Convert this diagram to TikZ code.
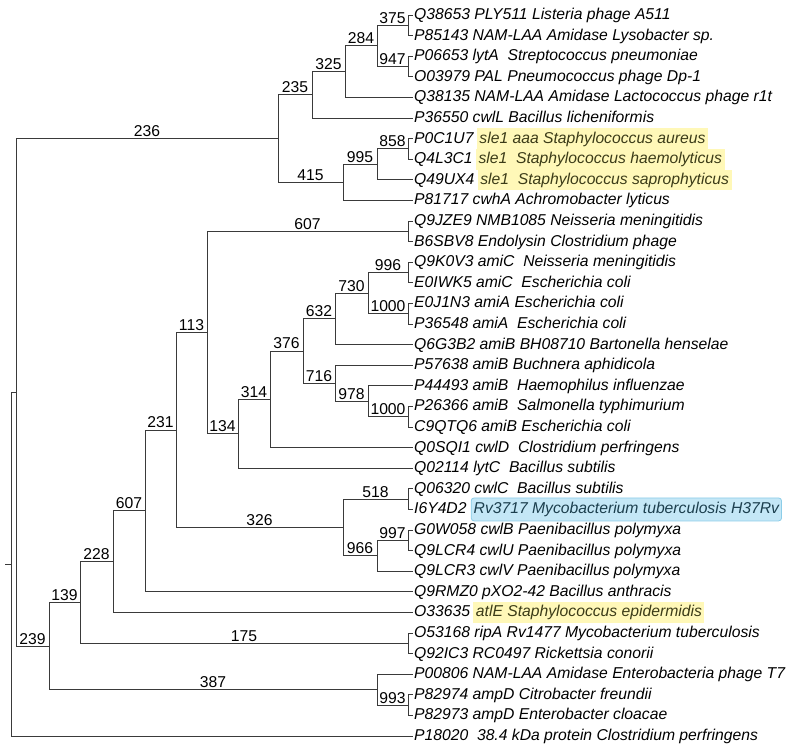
\documentclass[tikz,border=0pt]{standalone}
\usepackage{fontspec}
\setmainfont{Liberation Sans}
\usetikzlibrary{positioning,calc}
\definecolor{TreeLine}{HTML}{3A3A3A}
\definecolor{HlYellow}{HTML}{FFF8B8}
\definecolor{HlYellowText}{HTML}{3C3C18}
\definecolor{HlBlue}{HTML}{C4E7F6}
\definecolor{HlBlueEdge}{HTML}{8CCDE8}
\definecolor{HlBlueText}{HTML}{1C3F4E}

\begin{document}
\begin{tikzpicture}[x=1pt, y=-1pt,
  every node/.style={font=\fontsize{15.7}{18}\selectfont},
  leaf/.style={anchor=west, inner xsep=1pt, inner ysep=0pt, text height=12.5pt, text depth=3.5pt, font=\fontsize{15.7}{18}\selectfont\itshape},
  yellowmark/.style={leaf, fill=HlYellow, text=HlYellowText, minimum height=20.6pt, inner xsep=2.5pt},
  bluemark/.style={leaf, fill=HlBlue, draw=HlBlueEdge, line width=0.8pt, rounded corners=3pt, text=HlBlueText, minimum height=23pt, inner xsep=2.5pt},
  branch/.style={draw=TreeLine, line width=0.9pt},
  boot/.style={above, pos=0.75, inner sep=1.5pt}]
  \useasboundingbox (0,0) rectangle (790,750);

  % Leaves
  \node[leaf] (Q38653) at (413,15.0) {Q38653 PLY511 Listeria phage A511};
  \node[leaf] (P85143) at (413,35.6) {P85143 NAM-LAA Amidase Lysobacter sp.};
  \node[leaf] (P06653) at (413,56.2) {P06653 lytA~ Streptococcus pneumoniae};
  \node[leaf] (O03979) at (413,76.8) {O03979 PAL Pneumococcus phage Dp-1};
  \node[leaf] (Q38135) at (413,97.4) {Q38135 NAM-LAA Amidase Lactococcus phage r1t};
  \node[leaf] (P36550) at (413,118.0) {P36550 cwlL Bacillus licheniformis};
  \node[leaf] (P0C1U7) at (413,138.6) {P0C1U7};
  \node[yellowmark, right=2pt of P0C1U7] (hlP0C1U7) {sle1 aaa Staphylococcus aureus};
  \node[leaf] (Q4L3C1) at (413,159.2) {Q4L3C1};
  \node[yellowmark, right=2pt of Q4L3C1] (hlQ4L3C1) {sle1~ Staphylococcus haemolyticus};
  \node[leaf] (Q49UX4) at (413,179.8) {Q49UX4};
  \node[yellowmark, right=2pt of Q49UX4] (hlQ49UX4) {sle1~ Staphylococcus saprophyticus};
  \node[leaf] (P81717) at (413,200.4) {P81717 cwhA Achromobacter lyticus};
  \node[leaf] (Q9JZE9) at (413,221.0) {Q9JZE9 NMB1085 Neisseria meningitidis};
  \node[leaf] (B6SBV8) at (413,241.6) {B6SBV8 Endolysin Clostridium phage};
  \node[leaf] (Q9K0V3) at (413,262.2) {Q9K0V3 amiC~ Neisseria meningitidis};
  \node[leaf] (E0IWK5) at (413,282.8) {E0IWK5 amiC~ Escherichia coli};
  \node[leaf] (E0J1N3) at (413,303.4) {E0J1N3 amiA Escherichia coli};
  \node[leaf] (P36548) at (413,324.0) {P36548 amiA~ Escherichia coli};
  \node[leaf] (Q6G3B2) at (413,344.6) {Q6G3B2 amiB BH08710 Bartonella henselae};
  \node[leaf] (P57638) at (413,365.2) {P57638 amiB Buchnera aphidicola};
  \node[leaf] (P44493) at (413,385.8) {P44493 amiB~ Haemophilus influenzae};
  \node[leaf] (P26366) at (413,406.4) {P26366 amiB~ Salmonella typhimurium};
  \node[leaf] (C9QTQ6) at (413,427.0) {C9QTQ6 amiB Escherichia coli};
  \node[leaf] (Q0SQI1) at (413,447.6) {Q0SQI1 cwlD~ Clostridium perfringens};
  \node[leaf] (Q02114) at (413,468.2) {Q02114 lytC~ Bacillus subtilis};
  \node[leaf] (Q06320) at (413,488.8) {Q06320 cwlC~ Bacillus subtilis};
  \node[leaf] (I6Y4D2) at (413,509.4) {I6Y4D2};
  \node[bluemark, right=3pt of I6Y4D2] (hlI6Y4D2) {Rv3717 Mycobacterium tuberculosis H37Rv};
  \node[leaf] (G0W058) at (413,530.0) {G0W058 cwlB Paenibacillus polymyxa};
  \node[leaf] (Q9LCR4) at (413,550.6) {Q9LCR4 cwlU Paenibacillus polymyxa};
  \node[leaf] (Q9LCR3) at (413,571.2) {Q9LCR3 cwlV Paenibacillus polymyxa};
  \node[leaf] (Q9RMZ0) at (413,591.8) {Q9RMZ0 pXO2-42 Bacillus anthracis};
  \node[leaf] (O33635) at (413,612.4) {O33635};
  \node[yellowmark, right=2pt of O33635] (hlO33635) {atlE Staphylococcus epidermidis};
  \node[leaf] (O53168) at (413,633.0) {O53168 ripA Rv1477 Mycobacterium tuberculosis};
  \node[leaf] (Q92IC3) at (413,653.6) {Q92IC3 RC0497 Rickettsia conorii};
  \node[leaf] (P00806) at (413,674.2) {P00806 NAM-LAA Amidase Enterobacteria phage T7};
  \node[leaf] (P82974) at (413,694.8) {P82974 ampD Citrobacter freundii};
  \node[leaf] (P82973) at (413,715.4) {P82973 ampD Enterobacter cloacae};
  \node[leaf] (P18020) at (413,736.0) {P18020~ 38.4 kDa protein Clostridium perfringens};

  % Internal nodes
  \coordinate (n375) at (408,25.3);
  \coordinate (n947) at (408,66.5);
  \coordinate (n284) at (377,45.9);
  \coordinate (n325) at (345,71.65);
  \coordinate (n235) at (312,94.8);
  \coordinate (n858) at (408,148.9);
  \coordinate (n995) at (377,164.35);
  \coordinate (n415) at (343,182.4);
  \coordinate (n236) at (278,138.6);
  \coordinate (n607a) at (408,231.3);
  \coordinate (n996) at (408,272.5);
  \coordinate (n1000a) at (408,313.7);
  \coordinate (n730) at (368,293.1);
  \coordinate (n632) at (335,318.85);
  \coordinate (n1000b) at (408,416.7);
  \coordinate (n978) at (368,401.25);
  \coordinate (n716) at (335,383.2);
  \coordinate (n376) at (303,351.0);
  \coordinate (n314) at (270,399.3);
  \coordinate (n134) at (238,433.75);
  \coordinate (n113) at (207,332.5);
  \coordinate (n518) at (408,499.1);
  \coordinate (n997) at (408,540.3);
  \coordinate (n966) at (377,555.75);
  \coordinate (n326) at (343,527.4);
  \coordinate (n231) at (176,429.95);
  \coordinate (n607b) at (145,510.9);
  \coordinate (n228) at (113,561.65);
  \coordinate (n175) at (408,643.3);
  \coordinate (n139) at (80,602.5);
  \coordinate (n993) at (408,705.1);
  \coordinate (n387) at (377,689.65);
  \coordinate (n239) at (49,646.1);
  \coordinate (top) at (16,392.35);
  \coordinate (root) at (11,564.2);
  \coordinate (rootstub) at (5,564.2);

  % Branches
  \draw[branch] (rootstub) -- (root);
  \draw[branch] (root) |- (top);
  \draw[branch] (root) |- (P18020.west);
  \draw[branch] (top) |- (n236) node[boot] {236};
  \draw[branch] (top) |- (n239) node[boot] {239};

  \draw[branch] (n236) |- (n235) node[boot] {235};
  \draw[branch] (n236) |- (n415) node[boot] {415};
  \draw[branch] (n235) |- (n325) node[boot] {325};
  \draw[branch] (n235) |- (P36550.west);
  \draw[branch] (n325) |- (n284) node[boot] {284};
  \draw[branch] (n325) |- (Q38135.west);
  \draw[branch] (n284) |- (n375) node[boot] {375};
  \draw[branch] (n284) |- (n947) node[boot] {947};
  \draw[branch] (n375) |- (Q38653.west);
  \draw[branch] (n375) |- (P85143.west);
  \draw[branch] (n947) |- (P06653.west);
  \draw[branch] (n947) |- (O03979.west);
  \draw[branch] (n415) |- (n995) node[boot] {995};
  \draw[branch] (n415) |- (P81717.west);
  \draw[branch] (n995) |- (n858) node[boot] {858};
  \draw[branch] (n995) |- (Q49UX4.west);
  \draw[branch] (n858) |- (P0C1U7.west);
  \draw[branch] (n858) |- (Q4L3C1.west);

  \draw[branch] (n239) |- (n139) node[boot] {139};
  \draw[branch] (n239) |- (n387) node[boot] {387};
  \draw[branch] (n387) |- (P00806.west);
  \draw[branch] (n387) |- (n993) node[boot] {993};
  \draw[branch] (n993) |- (P82974.west);
  \draw[branch] (n993) |- (P82973.west);
  \draw[branch] (n139) |- (n228) node[boot] {228};
  \draw[branch] (n139) |- (n175) node[boot] {175};
  \draw[branch] (n175) |- (O53168.west);
  \draw[branch] (n175) |- (Q92IC3.west);
  \draw[branch] (n228) |- (n607b) node[boot] {607};
  \draw[branch] (n228) |- (O33635.west);
  \draw[branch] (n607b) |- (n231) node[boot] {231};
  \draw[branch] (n607b) |- (Q9RMZ0.west);
  \draw[branch] (n231) |- (n113) node[boot] {113};
  \draw[branch] (n231) |- (n326) node[boot] {326};

  \draw[branch] (n326) |- (n518) node[boot] {518};
  \draw[branch] (n326) |- (n966) node[boot] {966};
  \draw[branch] (n518) |- (Q06320.west);
  \draw[branch] (n518) |- (I6Y4D2.west);
  \draw[branch] (n966) |- (n997) node[boot] {997};
  \draw[branch] (n966) |- (Q9LCR3.west);
  \draw[branch] (n997) |- (G0W058.west);
  \draw[branch] (n997) |- (Q9LCR4.west);

  \draw[branch] (n113) |- (n607a) node[boot] {607};
  \draw[branch] (n113) |- (n134) node[boot] {134};
  \draw[branch] (n607a) |- (Q9JZE9.west);
  \draw[branch] (n607a) |- (B6SBV8.west);
  \draw[branch] (n134) |- (n314) node[boot] {314};
  \draw[branch] (n134) |- (Q02114.west);
  \draw[branch] (n314) |- (n376) node[boot] {376};
  \draw[branch] (n314) |- (Q0SQI1.west);
  \draw[branch] (n376) |- (n632) node[boot] {632};
  \draw[branch] (n376) |- (n716) node[boot] {716};
  \draw[branch] (n632) |- (n730) node[boot] {730};
  \draw[branch] (n632) |- (Q6G3B2.west);
  \draw[branch] (n730) |- (n996) node[boot] {996};
  \draw[branch] (n730) |- (n1000a) node[boot] {1000};
  \draw[branch] (n996) |- (Q9K0V3.west);
  \draw[branch] (n996) |- (E0IWK5.west);
  \draw[branch] (n1000a) |- (E0J1N3.west);
  \draw[branch] (n1000a) |- (P36548.west);
  \draw[branch] (n716) |- (P57638.west);
  \draw[branch] (n716) |- (n978) node[boot] {978};
  \draw[branch] (n978) |- (P44493.west);
  \draw[branch] (n978) |- (n1000b) node[boot] {1000};
  \draw[branch] (n1000b) |- (P26366.west);
  \draw[branch] (n1000b) |- (C9QTQ6.west);
\end{tikzpicture}
\end{document}
